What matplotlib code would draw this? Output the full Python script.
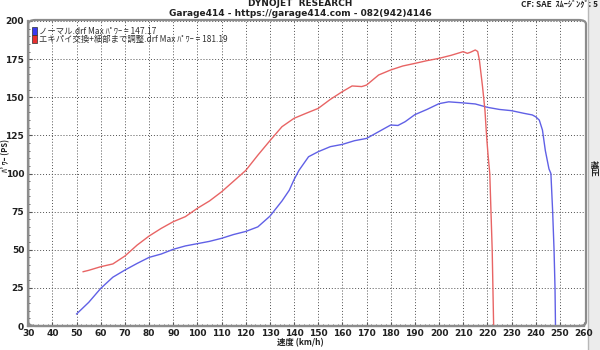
import matplotlib
matplotlib.use("Agg")
import matplotlib.pyplot as plt
from matplotlib.patches import FancyBboxPatch, Rectangle
from matplotlib.ticker import MultipleLocator
from matplotlib import font_manager

# ---- data ----
normal_speed = [50, 55, 60, 65, 70, 75, 80, 85, 90, 95, 100, 105, 110, 115, 120, 125, 130, 135, 138, 140,
                142, 146, 150, 155, 160, 165, 170, 175, 180, 183, 186, 190, 195, 200, 204, 210, 215, 220,
                225, 230, 235, 238.6, 240, 241.5, 242.8, 244, 245.5, 246.3, 247, 247.6, 248, 248.2]
normal_power = [7.9, 15.5, 24.7, 32, 36.7, 41, 45, 47.2, 50.3, 52.5, 54, 55.5, 57.5, 60, 62, 65, 72, 82, 89, 96,
                102, 111, 114.3, 117.6, 119.1, 121.5, 123, 127.4, 131.8, 131.5, 134, 138.6, 142, 145.8, 147,
                146.3, 145.6, 143.4, 142, 141.2, 139.5, 138.4, 137.2, 135, 128.5, 115, 103, 100, 76, 50, 25, 0]
tuned_speed = [52.7, 55, 60, 65, 70, 75, 80, 85, 90, 95, 100, 105, 110, 115, 120, 125, 130, 135, 140, 145,
               150, 155, 160, 164, 168, 170, 175, 180, 185, 190, 195, 200, 205, 210, 211.7, 213, 215, 216,
               216.7, 218, 219, 219.7, 220.3, 221, 221.5, 222, 222.3, 222.6]
tuned_power = [35.6, 36.5, 38.9, 40.7, 45.9, 53, 59, 64, 68.4, 71.7, 77.2, 82, 88, 95, 102, 112, 121.5, 130.7,
               136.2, 139.5, 142.7, 148.6, 153.7, 157.4, 157, 158, 164.6, 167.9, 170.5, 172.2, 174, 175.5,
               177.5, 179.9, 178.8, 179.5, 181, 180, 174.4, 157, 141.6, 124, 112, 100, 75, 50, 25, 0]
legend_labels = ["ノーマル.drf Max ﾊﾟﾜｰ = 147.17",
                 "エキパイ交換+細部まで調整.drf Max ﾊﾟﾜｰ = 181.19"]
x_ticks = list(range(30, 261, 10))
y_ticks = list(range(0, 201, 25))

JP = ['Noto Sans CJK JP', 'DejaVu Sans']
plt.rcParams['font.family'] = JP

names = {f.name for f in font_manager.fontManager.ttflist}
NUM = 'Liberation Sans Narrow' if 'Liberation Sans Narrow' in names else 'DejaVu Sans'

W, H = 600, 350
fig = plt.figure(figsize=(6, 3.5), dpi=100, facecolor='white')

# right gray strip
fig.patches.append(Rectangle((588 / W, 0), 12 / W, 1, transform=fig.transFigure,
                             facecolor='#ececec', edgecolor='none', zorder=-2))
fig.add_artist(plt.Line2D([588 / W, 588 / W], [0, 1], transform=fig.transFigure,
                          color='#b8b8b8', lw=1, zorder=-1))

left, right = 28.3 / W, 584 / W
bottom, top = (H - 326) / H, (H - 21) / H
ax = fig.add_axes([left, bottom, right - left, top - bottom])
ax.set_xlim(30, 260)
ax.set_ylim(0, 200)
ax.set_facecolor('white')

# rounded frame
frame = FancyBboxPatch((left, bottom), right - left + 2 / W, top - bottom + 1 / H,
                       boxstyle="round,pad=0,rounding_size=0.012", transform=fig.transFigure,
                       facecolor='none', edgecolor='#8c8c8c', lw=1.6, zorder=5)
fig.patches.append(frame)

for s in ['top', 'right']:
    ax.spines[s].set_visible(False)
for s in ['left', 'bottom']:
    ax.spines[s].set_color('#8c8c8c')
    ax.spines[s].set_linewidth(1.6)

ax.set_xticks(x_ticks)
ax.set_yticks(y_ticks)
ax.xaxis.set_minor_locator(MultipleLocator(2))
ax.yaxis.set_minor_locator(MultipleLocator(5))
ax.tick_params(which='major', direction='in', length=3, width=0.8, color='#555555',
               labelsize=6.5, pad=2)
ax.tick_params(axis='y', which='major', pad=3)
ax.tick_params(which='minor', direction='in', length=1.5, width=0.6, color='#555555')
for lab in ax.get_xticklabels() + ax.get_yticklabels():
    lab.set_fontfamily(NUM)
    lab.set_fontweight('bold')
    lab.set_color('#202020')

ax.grid(True, which='major', color='#505050', lw=0.7, linestyle=(0, (1, 2)))

ax.plot(normal_speed, normal_power, color='#6060e6', lw=1.0, zorder=3)
ax.plot(tuned_speed, tuned_power, color='#e86464', lw=1.0, zorder=3)

# legend
colors = ['#3a3af0', '#e83030']
for i, (lab, c) in enumerate(zip(legend_labels, colors)):
    yy = 1 - (10 + i * 8) / (326 - 21)
    ax.add_patch(Rectangle((4 / 555.7, yy - 3.5 / 305), 5 / 555.7, 7 / 305,
                           transform=ax.transAxes, facecolor=c, edgecolor='#303030', lw=0.5,
                           zorder=6, clip_on=False))
    ax.text(11 / 555.7, yy, lab, transform=ax.transAxes, fontsize=6, va='center', ha='left',
            color='#303030', family=JP, zorder=6)

# texts
fig.text(300 / W, 1 - 4 / H, "DYNOJET  RESEARCH", ha='center', va='center', fontsize=6.5,
         fontweight='bold', family=NUM, color='#202020')
fig.text(300 / W, 1 - 13 / H, "Garage414 - https://garage414.com - 082(942)4146", ha='center',
         va='center', fontsize=6.5, fontweight='bold', family=NUM, color='#202020')
fig.text(598 / W, 1 - 5 / H, "CF: SAE  ｽﾑｰｼﾞﾝｸﾞ: 5", ha='right', va='center', fontsize=6,
         fontweight='bold', family=JP, color='#202020')
fig.text(6 / W, 1 - 155 / H, "ﾊﾟﾜｰ (PS)", rotation=90, ha='center', va='center', fontsize=5.5,
         fontweight='bold', family=JP, color='#202020')
fig.text(300 / W, 1 - 343 / H, "速度 (km/h)", ha='center', va='center', fontsize=6,
         fontweight='bold', family=JP, color='#202020')
fig.text(593 / W, 1 - 168 / H, "補正", rotation=270, ha='center', va='center', fontsize=6,
         fontweight='bold', family=JP, color='#202020')

fig.savefig("out.png", dpi=100, facecolor='white')
